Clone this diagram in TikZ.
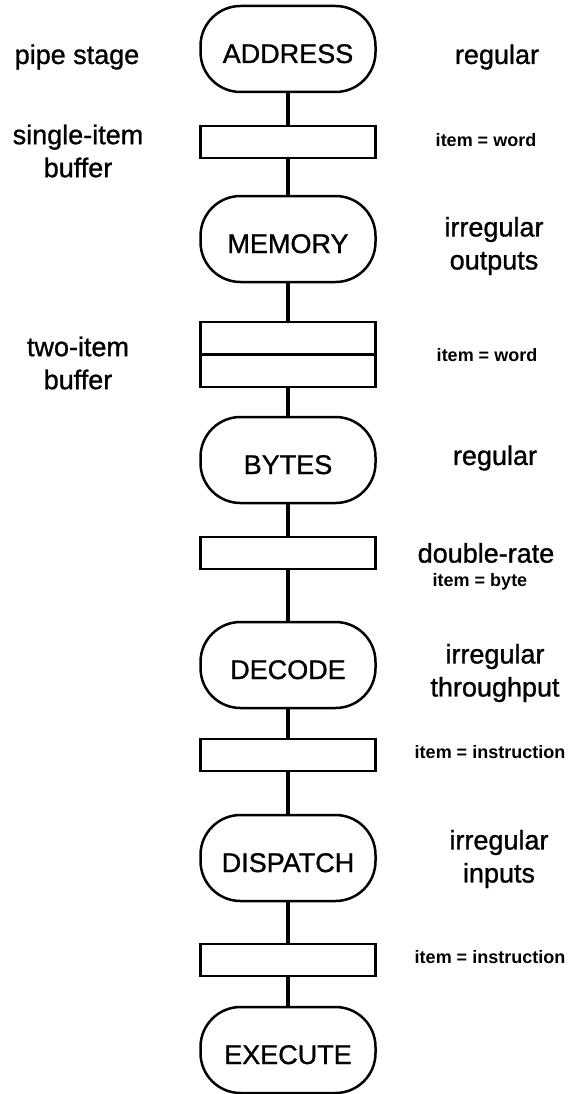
\documentclass[tikz,border=0pt]{standalone}
\usepackage{fontspec}
\setmainfont{Liberation Sans}
\newfontfamily\medfont{Liberation Sans}[FakeBold=1]
\usetikzlibrary{positioning}
\tikzset{
  stagebox/.style = {rectangle, rounded corners=40pt, draw, line width=2.5pt, outer sep=0pt, minimum width=175pt, minimum height=86pt, inner sep=0pt, text height=28pt, text depth=0pt, font=\medfont\fontsize{27}{33}\selectfont},
  bufbox/.style = {rectangle, draw, line width=2.5pt, outer sep=0pt, minimum width=175pt, minimum height=32pt, inner sep=0pt},
  link/.style = {line width=4.5pt},
  biglabel/.style = {align=center, font=\medfont\fontsize{27}{33}\selectfont},
  smalllabel/.style = {align=center, font=\bfseries\fontsize{18}{22}\selectfont},
}
\begin{document}
\begin{tikzpicture}[x=1pt, y=-1pt]
\useasboundingbox (0,0) rectangle (568,1094);
% pipeline column
\node[stagebox] (addr) at (288,49) {ADDRESS};
\node[bufbox, below=34pt of addr] (buf1) {};
\node[stagebox, below=38pt of buf1] (mem) {MEMORY};
\node[bufbox, minimum height=65pt, below=40pt of mem] (buf2) {};
\node[stagebox, below=30pt of buf2] (bytes) {BYTES};
\node[bufbox, below=34pt of bytes] (buf3) {};
\node[stagebox, below=53pt of buf3] (dec) {DECODE};
\node[bufbox, below=31pt of dec] (buf4) {};
\node[stagebox, below=44pt of buf4] (disp) {DISPATCH};
\node[bufbox, below=43pt of disp] (buf5) {};
\node[stagebox, below=31pt of buf5] (exec) {EXECUTE};
\draw[line width=2.5pt] (buf2.west) -- (buf2.east);
\foreach \a/\b in {addr/buf1, buf1/mem, mem/buf2, buf2/bytes, bytes/buf3,
                   buf3/dec, dec/buf4, buf4/disp, disp/buf5, buf5/exec}
  \draw[link] (\a) -- (\b);
% left labels
\node[biglabel] (lstage) at (77,57) {pipe stage};
\node[biglabel] (lbuf1) at (78,151) {single-item\\buffer};
\node[biglabel] (lbuf2) at (78,363) {two-item\\buffer};
% right labels
\node[biglabel] (raddr) at (497,57) {regular};
\node[smalllabel] (rbuf1) at (486,140) {item = word};
\node[biglabel] (rmem) at (494,246) {irregular\\outputs};
\node[smalllabel] (rbuf2) at (487,355) {item = word};
\node[biglabel] (rbytes) at (495,458) {regular};
\node[biglabel] (rbuf3) at (486,553) {double-rate};
\node[smalllabel] (rbuf3b) at (480,582) {item = byte};
\node[biglabel] (rdec) at (495,673) {irregular\\throughput};
\node[smalllabel] (rbuf4) at (490,752) {item = instruction};
\node[biglabel] (rdisp) at (499,859) {irregular\\inputs};
\node[smalllabel] (rbuf5) at (490,957) {item = instruction};
\end{tikzpicture}
\end{document}
